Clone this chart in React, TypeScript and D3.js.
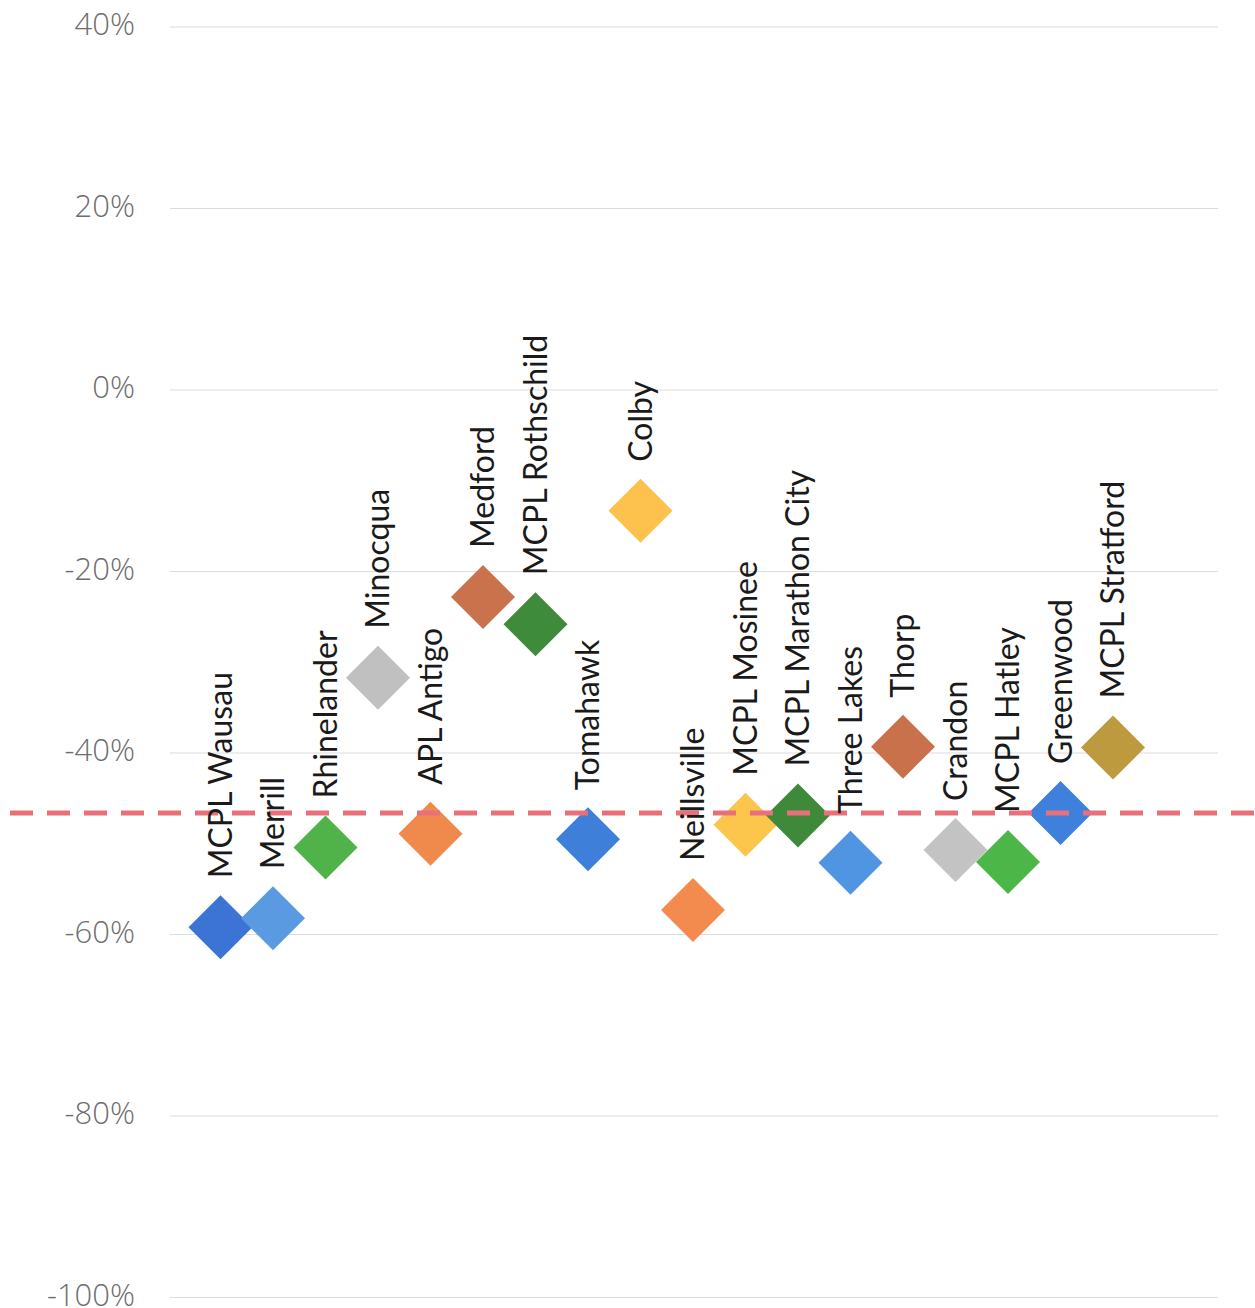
import React from "react";
import * as d3 from "d3";

const libraries = [
  "MCPL Wausau", "Merrill", "Rhinelander", "Minocqua", "APL Antigo", "Medford",
  "MCPL Rothschild", "Tomahawk", "Colby", "Neillsville", "MCPL Mosinee",
  "MCPL Marathon City", "Three Lakes", "Thorp", "Crandon", "MCPL Hatley",
  "Greenwood", "MCPL Stratford",
];
const changePct = [
  -59.2, -58.2, -50.4, -31.7, -48.9, -22.8, -25.8, -49.5, -13.3, -57.3, -47.9,
  -46.9, -52.1, -39.3, -50.7, -52.0, -46.6, -39.4,
];
const markerColors = [
  "#3b74d4", "#5a9ae0", "#4fb34a", "#c0c0c0", "#f0894c", "#c9724b",
  "#3f8b3c", "#3d7fd9", "#fdc24e", "#f38b4f", "#fcc64c",
  "#3f8a3a", "#4f95e1", "#c8714b", "#c3c3c3", "#4db649",
  "#3f80dc", "#bc9a3d",
];
const averagePct = -46.6;
const yTicks = [40, 20, 0, -20, -40, -60, -80, -100];

const W = 1255;
const H = 1308;

export default function App() {
  const x = d3.scaleLinear().domain([0, 20]).range([168, 1218]);
  const y = d3.scaleLinear().domain([-100, 40]).range([1297.5, 27]);
  const diamond = d3.symbol(d3.symbolSquare, 2048)() as string;
  const labelFont = "Lato, 'Open Sans', sans-serif";
  const tickFont = "'Open Sans', Lato, sans-serif";

  return (
    <svg
      width={W}
      height={H}
      style={{ position: "absolute", left: 0, top: 0, background: "#fff" }}
    >
      <rect x={0} y={0} width={W} height={H} fill="#ffffff" />
      {yTicks.map((t) => (
        <g key={t}>
          <line
            x1={170}
            x2={1218}
            y1={y(t)}
            y2={y(t)}
            stroke="#dcdcdc"
            strokeWidth={1.1}
          />
          <text
            x={135}
            y={y(t)}
            dy="0.27em"
            textAnchor="end"
            fontFamily={tickFont}
            fontWeight={300}
            fontSize={31}
            fill="#6e6e6e"
          >
            {`${t}%`}
          </text>
        </g>
      ))}
      {libraries.map((name, i) => (
        <path
          key={name}
          d={diamond}
          transform={`translate(${x(i + 1)},${y(changePct[i])}) rotate(45)`}
          fill={markerColors[i]}
        />
      ))}
      <line
        x1={10}
        x2={W}
        y1={y(averagePct)}
        y2={y(averagePct)}
        stroke="#e8707a"
        strokeWidth={5}
        strokeDasharray="23 14"
      />
      {libraries.map((name, i) => (
        <text
          key={name}
          transform={`translate(${x(i + 1)},${y(changePct[i]) - 49}) rotate(-90)`}
          dy="0.35em"
          textAnchor="start"
          fontFamily={labelFont}
          fontSize={32}
          fill="#1a1a1a"
        >
          {name}
        </text>
      ))}
    </svg>
  );
}
